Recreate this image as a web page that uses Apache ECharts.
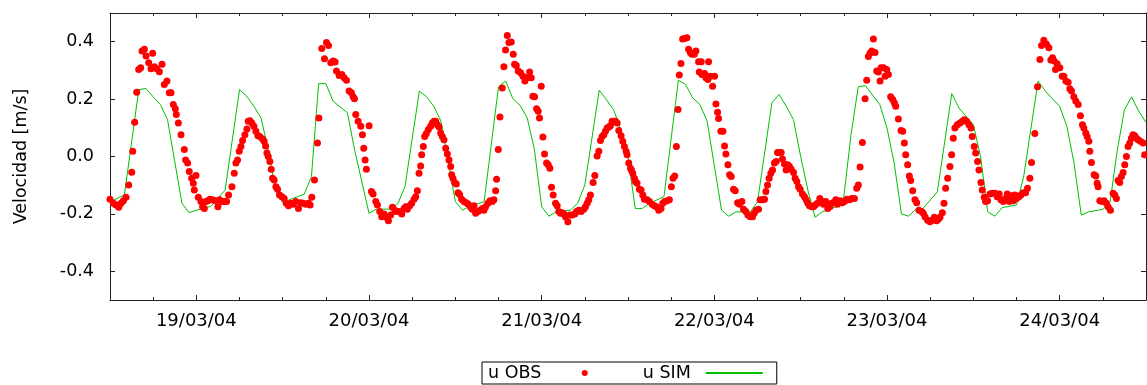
<!DOCTYPE html>
<html>
<head>
<meta charset="utf-8">
<script src="https://cdn.jsdelivr.net/npm/echarts@6/dist/echarts.min.js"></script>
<style>
html,body{margin:0;padding:0;background:#fff;}
#chart{width:1147px;height:385px;}
</style>
</head>
<body>
<div id="chart"></div>
<script>
// Time origin: 18/03/2004 12:00 (UTC); x values are hours since then
const START = Date.UTC(2004, 2, 18, 12);
const dayTickHours = [12, 36, 60, 84, 108, 132];
const yTicks = [-0.4, -0.2, 0.0, 0.2, 0.4];

// Simulated velocity (u SIM)
const simHours = [0,2,4,5,6,7,8,10,11,12,14,16,18,19,20,21,22,23,24,27,28,29,30,31,33,34,36,37,39,40,41,
  43,44,45,46,48,49,50,52,54,55,56,57,58,59,60,61,62,64,65,66,68,69,70,71,72,73,74,75,77,
  79,80,81,82,83,85,86,87,89,90,92,93,94,95,96,97,98,99,101,102,103,104,105,107,108,109,110,111,112,113,115,
  117,118,120,121,122,123,124,126,127,129,130,132,133,134,135,136,138,139,140,141,142,143,144];
const simVel = [-0.158,-0.134,0.233,0.237,0.208,0.181,0.128,-0.163,-0.196,-0.187,-0.174,-0.117,0.233,0.21,0.175,0.134,0.023,-0.117,-0.16,-0.131,-0.07,0.254,0.254,0.193,0.152,0.023,-0.198,-0.184,-0.183,-0.165,-0.105,
  0.228,0.208,0.175,0.123,-0.157,-0.187,-0.173,-0.158,0.243,0.263,0.201,0.178,0.134,0.023,-0.175,-0.208,-0.193,-0.187,-0.163,-0.099,0.231,0.198,0.163,0.093,0.0,-0.181,-0.181,-0.163,-0.14,
  0.266,0.251,0.204,0.181,0.123,-0.187,-0.208,-0.193,-0.193,-0.158,0.187,0.216,0.175,0.128,0.0,-0.117,-0.212,-0.193,-0.175,-0.14,0.076,0.243,0.247,0.181,0.099,-0.023,-0.2,-0.208,-0.184,-0.181,-0.123,
  0.219,0.169,0.111,0.0,-0.193,-0.208,-0.178,-0.169,-0.07,0.263,0.228,0.175,0.105,-0.023,-0.204,-0.193,-0.184,-0.16,0.02,0.163,0.208,0.157,0.119];

// Observed velocity (u OBS)
const obsHours = [0.00,0.47,0.84,1.21,1.54,1.86,2.23,2.60,3.02,3.16,3.43,3.71,3.99,4.27,4.45,4.78,5.01,5.38,5.70,5.93,6.16,6.49,6.86,7.23,7.55,7.92,8.25,8.48,8.80,9.08,9.22,9.50,9.87,10.33,10.51,10.79,11.02,11.35,11.58,11.72,11.95,12.27,12.64,12.87,13.11,13.34,13.61,13.89,14.26,14.63,15.00,15.23,15.56,15.88,16.21,16.48,16.95,17.27,17.50,17.73,17.96,18.20,18.43,18.75,19.03,19.21,19.45,19.72,20.00,20.28,20.56,20.83,21.20,21.43,21.62,21.81,21.99,22.22,22.41,22.59,22.82,23.06,23.29,23.56,23.89,24.21,24.49,24.81,25.14,25.46,25.83,26.20,26.53,26.85,27.22,27.59,27.82,28.05,28.42,28.84,29.03,29.44,29.81,30.09,30.37,30.69,31.01,31.29,31.48,31.85,32.22,32.54,32.87,33.24,33.56,33.79,33.98,34.16,34.49,34.86,35.09,35.27,35.46,35.64,36.01,36.34,36.57,36.94,37.17,37.49,37.77,38.10,38.42,38.70,39.02,39.25,39.62,
  39.81,40.18,40.55,40.87,41.10,41.33,41.66,41.93,42.26,42.49,42.72,42.95,43.18,43.32,43.55,43.74,43.97,44.25,44.57,44.80,45.04,45.27,45.50,45.73,45.96,46.19,46.42,46.66,46.89,47.12,47.35,47.49,47.67,47.90,48.14,48.37,48.60,48.88,49.20,49.52,49.80,50.13,50.36,50.59,50.82,51.14,51.42,51.75,51.98,52.21,52.53,52.81,53.13,53.36,53.60,53.73,53.97,54.20,54.52,54.75,54.98,55.22,55.45,55.77,56.05,56.23,56.47,56.74,57.07,57.39,57.67,57.99,58.32,58.55,58.78,59.01,59.29,59.52,59.70,59.94,60.17,60.40,60.68,60.91,61.14,61.37,61.60,61.93,62.16,62.39,62.62,62.85,63.08,63.31,63.64,63.92,64.24,64.61,64.84,65.16,65.49,65.86,66.09,66.32,66.55,66.78,67.15,67.39,67.71,67.94,68.17,68.40,68.64,68.87,69.10,69.33,69.56,69.79,70.02,70.26,70.49,70.72,71.04,71.27,71.50,71.74,71.87,72.11,72.34,72.48,72.66,72.89,73.03,73.26,73.59,73.82,74.05,74.28,74.65,74.98,75.35,75.67,75.95,76.27,76.59,76.83,77.10,77.43,77.75,78.03,78.26,78.49,78.72,78.95,
  79.13,79.36,79.59,79.87,80.19,80.42,80.66,80.89,81.21,81.44,81.81,81.91,82.18,82.28,82.65,82.83,83.11,83.20,83.43,83.76,84.03,84.22,84.45,84.59,84.91,85.19,85.42,85.61,85.89,86.12,86.35,86.67,86.90,87.23,87.50,87.83,88.06,88.38,88.66,88.99,89.31,89.54,89.82,90.14,90.37,90.70,90.98,91.16,91.39,91.62,91.85,92.09,92.36,92.60,92.78,93.01,93.29,93.47,93.75,93.98,94.21,94.45,94.68,95.00,95.23,95.46,95.70,95.93,96.25,96.53,96.76,96.99,97.22,97.55,97.78,98.01,98.33,98.66,98.93,99.17,99.49,99.77,100.05,100.32,100.55,100.88,101.11,101.48,101.80,102.08,102.41,102.78,103.10,103.47,103.79,104.02,104.26,104.58,104.95,105.18,105.41,105.64,105.88,106.11,106.34,106.57,106.80,107.03,107.17,107.50,107.73,107.96,108.19,108.51,108.79,109.02,109.21,109.58,109.95,110.18,110.41,110.60,110.87,111.11,111.29,111.57,111.89,112.12,112.45,112.82,113.05,113.28,113.65,113.97,114.30,114.58,114.90,115.13,115.36,115.69,115.92,116.15,116.43,116.75,116.98,117.21,117.44,117.77,
  118.14,118.46,118.74,119.07,119.39,119.67,119.85,120.13,120.32,120.59,120.78,121.06,121.24,121.52,121.70,121.98,122.31,122.63,123.00,123.32,123.60,123.83,124.16,124.48,124.71,124.99,125.31,125.54,125.78,126.01,126.33,126.61,126.93,127.26,127.53,127.86,128.09,128.55,128.92,129.25,129.48,129.80,130.17,130.50,130.77,131.01,131.24,131.42,131.65,132.02,132.35,132.58,132.86,133.18,133.41,133.64,133.97,134.24,134.57,134.89,135.17,135.36,135.63,135.82,136.05,136.19,136.42,136.79,137.02,137.21,137.34,137.58,137.90,138.18,138.50,138.73,139.06,139.43,139.66,139.89,140.12,140.35,140.58,140.82,141.05,141.28,141.51,141.74,141.97,142.20,142.44,142.67,142.90,143.22,143.59,143.82];
const obsVel = [-0.149,-0.163,-0.169,-0.177,-0.163,-0.154,-0.142,-0.099,-0.055,0.018,0.119,0.224,0.303,0.309,0.368,0.374,0.350,0.327,0.306,0.360,0.313,0.306,0.295,0.321,0.251,0.263,0.222,0.222,0.181,0.166,0.146,0.117,0.076,0.024,-0.012,-0.023,-0.052,-0.076,-0.093,-0.117,-0.066,-0.142,-0.157,-0.175,-0.181,-0.157,-0.154,-0.149,-0.151,-0.154,-0.175,-0.151,-0.157,-0.157,-0.157,-0.134,-0.105,-0.058,-0.023,-0.012,0.018,0.035,0.056,0.076,0.096,0.123,0.125,0.117,0.105,0.088,0.072,0.070,0.061,0.053,0.037,0.012,0.000,-0.017,-0.044,-0.076,-0.082,-0.105,-0.114,-0.134,-0.140,-0.146,-0.163,-0.172,-0.163,-0.166,-0.157,-0.181,-0.161,-0.163,-0.166,-0.163,-0.169,-0.142,-0.082,0.047,0.134,0.376,0.341,0.397,0.387,0.327,0.333,0.329,0.298,0.282,0.286,0.274,0.266,0.228,0.222,0.208,0.201,0.146,0.123,0.105,0.076,0.029,-0.012,-0.044,0.107,-0.122,-0.131,-0.157,-0.169,-0.192,-0.210,-0.200,-0.212,-0.224,-0.204,-0.177,-0.187,
  -0.192,-0.192,-0.200,-0.181,-0.175,-0.184,-0.172,-0.163,-0.149,-0.140,-0.119,-0.058,-0.033,0.006,0.035,0.070,0.080,0.094,0.105,0.117,0.123,0.123,0.111,0.103,0.082,0.070,0.058,0.029,0.009,-0.012,-0.035,-0.064,-0.076,-0.091,-0.096,-0.126,-0.132,-0.149,-0.157,-0.161,-0.166,-0.177,-0.184,-0.172,-0.198,-0.192,-0.187,-0.181,-0.187,-0.175,-0.163,-0.154,-0.157,-0.151,-0.119,-0.079,0.024,0.138,0.239,0.313,0.371,0.422,0.397,0.399,0.356,0.321,0.317,0.298,0.292,0.280,0.263,0.274,0.294,0.274,0.210,0.208,0.166,0.158,0.134,0.245,0.068,0.009,-0.023,-0.029,-0.041,-0.107,-0.134,-0.163,-0.172,-0.192,-0.198,-0.196,-0.200,-0.210,-0.227,-0.204,-0.204,-0.200,-0.192,-0.187,-0.192,-0.184,-0.175,-0.163,-0.151,-0.134,-0.091,-0.066,0.002,0.018,0.056,0.070,0.076,0.088,0.099,0.103,0.107,0.123,0.123,0.123,0.117,0.091,0.072,0.053,0.035,0.018,0.006,-0.023,-0.041,-0.047,-0.058,-0.076,-0.087,-0.093,-0.114,-0.117,-0.134,-0.149,-0.151,-0.157,-0.166,-0.172,-0.175,-0.187,-0.181,-0.163,-0.157,-0.154,-0.151,-0.105,-0.076,-0.068,0.035,0.164,
  0.284,0.324,0.409,0.411,0.414,0.374,0.362,0.356,0.356,0.368,0.330,0.294,0.330,0.286,0.289,0.274,0.268,0.330,0.280,0.245,0.280,0.183,0.154,0.132,0.088,0.088,0.037,0.009,-0.029,-0.064,-0.070,-0.114,-0.119,-0.161,-0.166,-0.157,-0.184,-0.192,-0.204,-0.210,-0.210,-0.198,-0.187,-0.184,-0.151,-0.151,-0.149,-0.122,-0.099,-0.076,-0.058,-0.047,-0.023,-0.017,0.014,0.014,0.014,-0.009,-0.026,-0.047,-0.029,-0.035,-0.044,-0.056,-0.076,-0.087,-0.105,-0.114,-0.131,-0.140,-0.151,-0.163,-0.172,-0.175,-0.175,-0.169,-0.163,-0.146,-0.157,-0.166,-0.157,-0.181,-0.175,-0.163,-0.161,-0.151,-0.166,-0.154,-0.161,-0.157,-0.149,-0.151,-0.146,-0.146,-0.111,-0.099,-0.037,0.049,0.201,0.266,0.348,0.360,0.368,0.409,0.362,0.298,0.294,0.263,0.309,0.309,0.280,0.303,0.286,0.208,0.199,0.187,0.175,0.131,0.091,0.088,0.047,0.006,-0.029,-0.068,-0.084,-0.119,-0.151,-0.161,-0.187,-0.192,-0.198,-0.210,-0.222,-0.227,-0.222,-0.212,-0.224,-0.219,-0.212,-0.196,-0.163,-0.111,-0.076,-0.035,0.006,0.064,0.099,0.111,
  0.117,0.123,0.128,0.123,0.111,0.099,0.070,0.035,0.012,-0.017,-0.047,-0.091,-0.117,-0.142,-0.157,-0.154,-0.131,-0.128,-0.128,-0.140,-0.131,-0.151,-0.157,-0.146,-0.131,-0.157,-0.137,-0.154,-0.134,-0.146,-0.140,-0.134,-0.126,-0.126,-0.111,-0.076,-0.021,0.080,0.243,0.338,0.387,0.405,0.391,0.379,0.336,0.344,0.333,0.303,0.323,0.309,0.280,0.280,0.263,0.259,0.236,0.228,0.208,0.193,0.181,0.142,0.111,0.099,0.082,0.070,0.053,0.018,-0.021,-0.064,-0.068,-0.093,-0.105,-0.154,-0.157,-0.154,-0.163,-0.175,-0.187,-0.128,-0.134,-0.146,-0.084,-0.091,-0.070,-0.056,-0.029,0.000,0.035,0.047,0.064,0.076,0.072,0.064,0.058,0.053,0.047,0.006];

const FONT = 'DejaVu Sans';
const AXC = '#222';

function fmtDate(h) {
  const d = new Date(START + h * 3600000);
  const p = n => String(n).padStart(2, '0');
  return p(d.getUTCDate()) + '/' + p(d.getUTCMonth() + 1) + '/' + p(d.getUTCFullYear() % 100);
}

function xAxisDef(position, showLine, tickLen, tickValues, labels) {
  const ax = {
    type: 'value', min: 0, max: 144, interval: 6, position: position,
    splitLine: {show: false},
    axisLine: {show: showLine, onZero: false, lineStyle: {color: AXC, width: 1}},
    axisTick: {show: true, inside: true, length: tickLen, lineStyle: {color: AXC}},
    axisLabel: {show: false}
  };
  if (tickValues) ax.axisTick.customValues = tickValues;
  if (labels) {
    ax.axisLabel = {show: true, customValues: dayTickHours, formatter: v => fmtDate(v),
      fontFamily: FONT, fontSize: 18, color: '#000', margin: 12};
  }
  return ax;
}

const chart = echarts.init(document.getElementById('chart'), null, {renderer: 'canvas'});
chart.setOption({
  animation: false,
  backgroundColor: '#fff',
  grid: {left: 110, right: 1, top: 13, bottom: 85, containLabel: false},
  legend: {
    data: [
      {name: 'u OBS'},
      {name: 'u SIM', itemStyle: {opacity: 0}}
    ],
    left: 482, top: 362,
    align: 'right',
    itemWidth: 57, itemHeight: 6, itemGap: 55,
    padding: [2, 13, 2, 6],
    borderColor: '#000', borderWidth: 1,
    selectedMode: false,
    textStyle: {fontFamily: FONT, fontSize: 17.5, color: '#000', padding: [0, 10, 0, 0]}
  },
  xAxis: [
    xAxisDef('bottom', true, 3, null, true),
    xAxisDef('bottom', false, 5, dayTickHours, false),
    xAxisDef('top', true, 3, null, false),
    xAxisDef('top', false, 5, dayTickHours, false)
  ],
  yAxis: [
    {
      type: 'value', min: -0.5, max: 0.5, position: 'left',
      name: 'Velocidad [m/s]', nameLocation: 'middle', nameRotate: 90, nameGap: 80,
      nameTextStyle: {fontFamily: FONT, fontSize: 17.5, color: '#000'},
      splitLine: {show: false},
      axisLine: {show: true, onZero: false, lineStyle: {color: AXC, width: 1}},
      axisTick: {show: true, inside: true, length: 5, customValues: yTicks, lineStyle: {color: AXC}},
      axisLabel: {show: true, customValues: yTicks, formatter: v => Number(v).toFixed(1),
        fontFamily: FONT, fontSize: 17.5, color: '#000', margin: 16}
    },
    {
      type: 'value', min: -0.5, max: 0.5, position: 'right',
      splitLine: {show: false},
      axisLine: {show: true, onZero: false, lineStyle: {color: AXC, width: 1}},
      axisTick: {show: true, inside: true, length: 5, customValues: yTicks, lineStyle: {color: AXC}},
      axisLabel: {show: false}
    }
  ],
  series: [
    {
      name: 'u OBS', type: 'scatter', xAxisIndex: 0, yAxisIndex: 0,
      symbol: 'circle', symbolSize: 7,
      itemStyle: {color: '#ff0000', opacity: 1},
      data: obsHours.map((h, i) => [h, obsVel[i]]),
      z: 3
    },
    {
      name: 'u SIM', type: 'line', xAxisIndex: 0, yAxisIndex: 0,
      symbol: 'none', showSymbol: false,
      lineStyle: {color: '#00c000', width: 1},
      itemStyle: {color: '#00c000'},
      data: simHours.map((h, i) => [h, simVel[i]]),
      z: 2
    }
  ]
});
</script>
</body>
</html>
